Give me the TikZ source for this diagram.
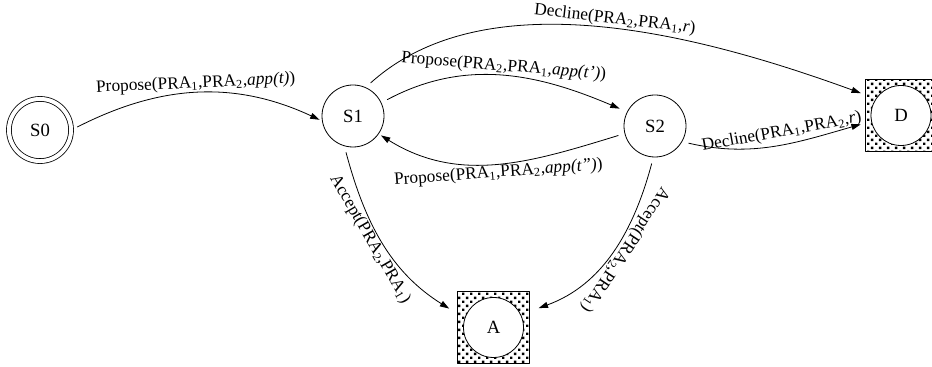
\documentclass[tikz,border=0pt]{standalone}
\usepackage{fontspec}
\setmainfont{Liberation Serif}
\usepackage{tikz}
\usetikzlibrary{arrows.meta,patterns}
\pgfdeclarepatternformonly{bigdots}{\pgfpointorigin}{\pgfpoint{6.2pt}{6.2pt}}{\pgfpoint{6.2pt}{6.2pt}}{%
  \pgfpathrectangle{\pgfpoint{0pt}{0pt}}{\pgfpoint{2pt}{2pt}}%
  \pgfpathrectangle{\pgfpoint{3.1pt}{3.1pt}}{\pgfpoint{2pt}{2pt}}%
  \pgfusepath{fill}}
\newcommand{\pra}[1]{PRA\textsubscript{#1}}

\begin{document}
\begin{tikzpicture}[line cap=round,line join=round,x=0.75pt,y=0.75pt,line width=0.6pt,
  >={Triangle[length=7pt,width=4.5pt]},
  st/.style={circle,draw,minimum size=46.5pt,inner sep=0pt,font=\fontsize{14}{16}\selectfont},
  start/.style={st,double,double distance=3pt,minimum size=46.6pt},
  endbox/.style={rectangle,draw,pattern=bigdots,minimum size=54pt,inner sep=0pt},
  endst/.style={st,fill=white,minimum size=45pt},
  edge/.style={->,shorten <=5pt,shorten >=2pt},
  lbl/.style={sloped,inner sep=1pt,font=\fontsize{13}{15}\selectfont}]
\useasboundingbox (0,0) rectangle (932,367);
% states
\node[start] (S0) at (40,237) {S0};
\node[st] (S1) at (353,251) {S1};
\node[st] (S2) at (655,241) {S2};
\node[endbox] (Abox) at (493.5,39.5) {};
\node[endst] (A) at (Abox) {A};
\node[endbox] (Dbox) at (901,251.5) {};
\node[endst] (D) at (Dbox) {D};
% transitions
\draw[edge] (S0.0) to[out=27,in=155]
  node[lbl,above] {Propose(\pra{1},\pra{2},\textit{app(t)})} (S1.189);
\draw[edge,shorten >=6pt] (S1.25) to[out=28,in=157]
  node[lbl,above] {Propose(\pra{2},\pra{1},\textit{app(t')})} (S2.153);
\draw[edge] (S2.194) to[out=197,in=-32]
  node[lbl,below] {Propose(\pra{1},\pra{2},\textit{app(t'')})} (S1.-35);
\draw[edge,shorten >=3pt] (S1.66) to[out=42,in=160,looseness=0.85]
  node[lbl,above,pos=0.52] {Decline(\pra{2},\pra{1},\textit{r})} (Dbox.150);
\draw[edge,shorten >=3pt] (S2.-30) to[out=-13,in=196]
  node[lbl,above=2pt,pos=0.56] {Decline(\pra{1},\pra{2},\textit{r})} (Dbox.192);
\draw[edge,shorten >=7pt] (S1.254) to[out=-75,in=148]
  node[lbl,below,pos=0.45] {Accept(\pra{2},\pra{1})} (Abox.159);
\draw[edge,shorten >=7pt] (S2.267) to[out=-105,in=20]
  node[lbl,above,allow upside down,pos=0.45] {Accept(\pra{2},\pra{1})} (Abox.24);
\end{tikzpicture}
\end{document}
